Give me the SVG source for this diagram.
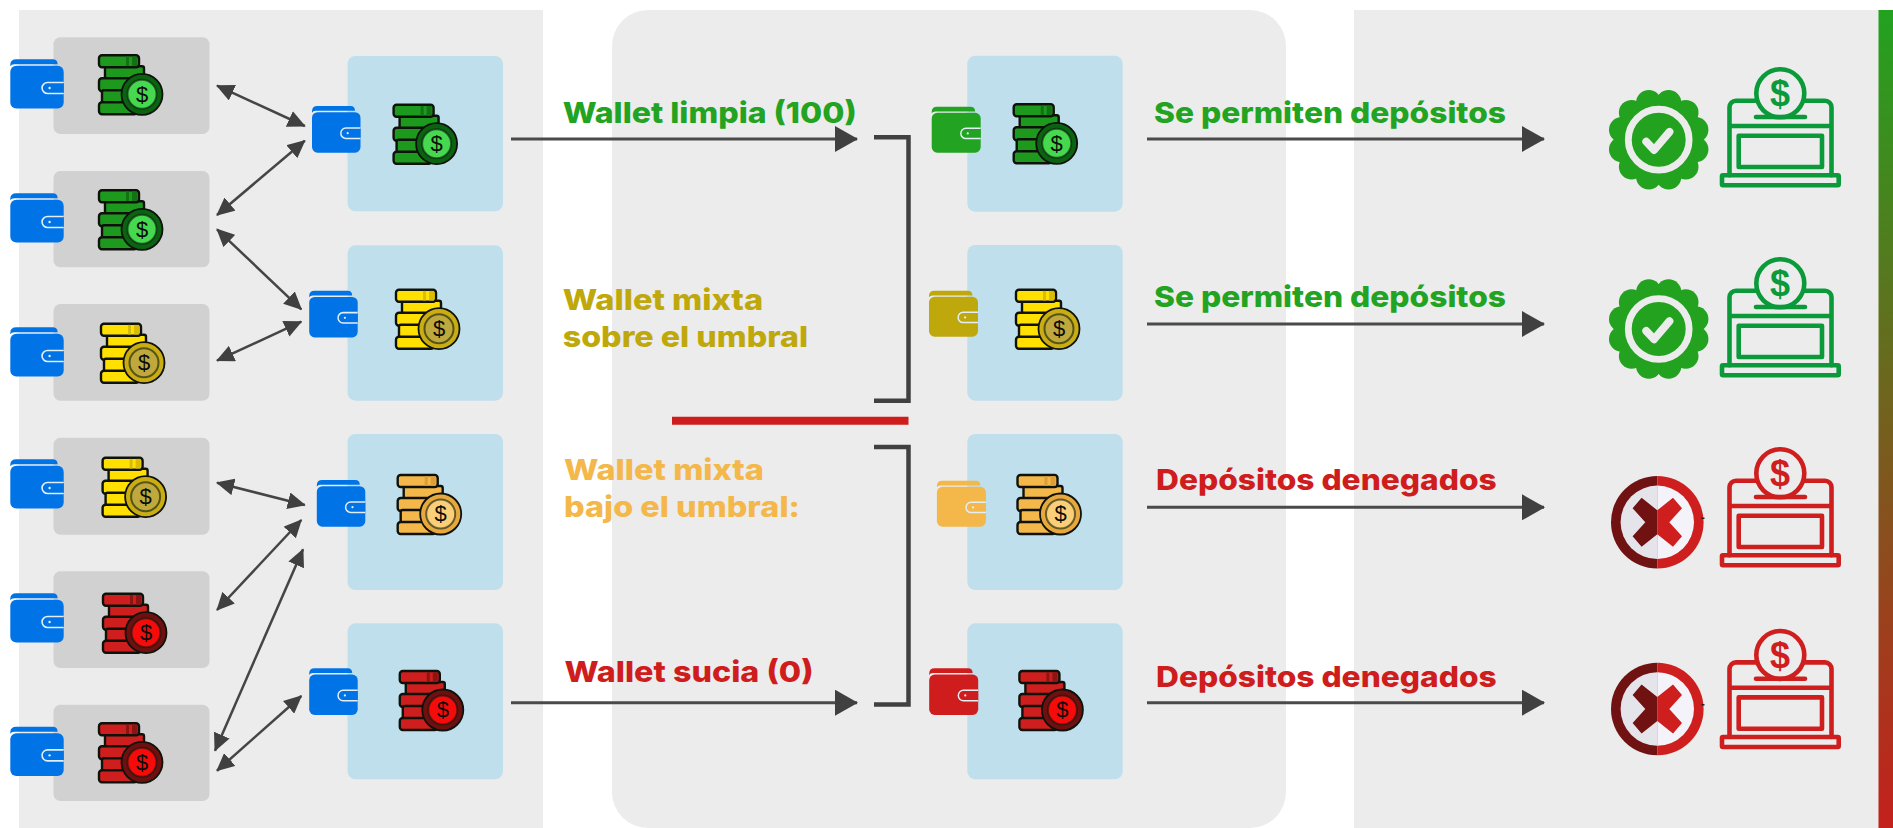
<svg xmlns="http://www.w3.org/2000/svg" width="1893" height="828" viewBox="0 0 1893 828">
<style>
.panel{fill:#ececec}
.gb{fill:#d1d1d1}
.bb{fill:#c0dfed}
.t{font-family:Inter,"Open Sans","Liberation Sans",sans-serif;font-weight:800;font-size:29px}
.green{fill:#22a322}.olive{fill:#bfa80c}.orange{fill:#f4b74a}.red{fill:#cf1c1c}
.d{font-family:"Liberation Sans",Arial,sans-serif;font-size:22px;text-anchor:middle;fill:#0c0c0c}
.bd{font-family:"Liberation Sans",Arial,sans-serif;font-weight:700;font-size:36px;text-anchor:middle}
.cg{--b:#1d9a1e;--s:#127312;--r:#0b6312;--l:#46d94f}
.cy{--b:#ffe000;--s:#d9bc05;--r:#c9ad12;--l:#bfa93c}
.co{--b:#f4b74a;--s:#dd9f35;--r:#e8a93c;--l:#fbcf78}
.cr{--b:#cf1e1e;--s:#8e1414;--r:#6f1010;--l:#f60b0b}
.sb{fill:var(--b);stroke:#0e120b;stroke-width:2.4}
.wb{color:#0073e6}.wg{color:#22a322}.wy{color:#bfa80c}.wo{color:#f4b74a}.wr{color:#cf1c1c}
.dbl{stroke:#454545;stroke-width:2.5;fill:none;marker-start:url(#ah);marker-end:url(#ah)}
.one{stroke:#4a4a4a;stroke-width:3;fill:none;marker-end:url(#bh)}
.brk{stroke:#404040;stroke-width:4.5;fill:none}
.box{fill:none;stroke-width:4.600;stroke-linejoin:round;stroke-linecap:round}
.sg{stroke:#0b9a3a;color:#0b9a3a}.sr{stroke:#cf1e1e;color:#cf1e1e}
</style>
<defs>
<linearGradient id="bar" x1="0" y1="0" x2="0" y2="1"><stop offset="0" stop-color="#22a21f"/><stop offset="1" stop-color="#c4201c"/></linearGradient>
<marker id="ah" markerUnits="userSpaceOnUse" viewBox="0 0 18 17" refX="17" refY="8.5" markerWidth="18" markerHeight="17" orient="auto-start-reverse"><path d="M0 0L18 8.5L0 17Z" fill="#404040"/></marker>
<marker id="bh" markerUnits="userSpaceOnUse" viewBox="0 0 23 26" refX="22" refY="13" markerWidth="23" markerHeight="26" orient="auto"><path d="M0 0L23 13L0 26Z" fill="#404040"/></marker>
<symbol id="wallet" viewBox="0 0 53 49" preserveAspectRatio="none" overflow="visible">
<path d="M0 5.5Q0 0 6 0H42Q47 0 47 5H4Q1 5 0 7Z" fill="currentColor"/>
<rect x="0" y="6.500" width="53" height="42.500" rx="6" fill="currentColor"/>
<path d="M53 23H37a5.5 5.5 0 0 0 0 11H53" fill="currentColor" stroke="#e4eef5" stroke-width="1.6"/>
<circle cx="39" cy="28.5" r="1.2" fill="#e4eef5"/>
</symbol>
<symbol id="coins" viewBox="0 0 65 61" overflow="visible">
<rect class="sb" x="7" y="12" width="39" height="14" rx="2"/>
<rect class="sb" x="1" y="24" width="38" height="13" rx="3"/>
<rect class="sb" x="4" y="36" width="35" height="13" rx="2"/>
<rect class="sb" x="1" y="48" width="38" height="12" rx="3"/>
<rect class="sb" x="1" y="1" width="40" height="12" rx="3"/>
<rect x="28" y="2.200" width="3" height="9.600" fill="var(--s)"/><rect x="34" y="2.200" width="5" height="9.600" fill="var(--s)"/>
<circle cx="44" cy="40" r="20.500" fill="var(--r)" stroke="#0e120b" stroke-width="1.8"/>
<circle cx="44" cy="40" r="14.500" fill="var(--l)" stroke="#0d1a0d" stroke-opacity=".6" stroke-width="2"/>
</symbol>
<symbol id="badge" viewBox="-52 -52 104 104">
<g fill="#22a21f"><circle r="43"/>
<circle cx="10.100" cy="37.700" r="13"/><circle cx="27.600" cy="27.600" r="13"/><circle cx="37.700" cy="10.100" r="13"/>
<circle cx="37.700" cy="-10.100" r="13"/><circle cx="27.600" cy="-27.600" r="13"/><circle cx="10.100" cy="-37.700" r="13"/>
<circle cx="-10.100" cy="-37.700" r="13"/><circle cx="-27.600" cy="-27.600" r="13"/><circle cx="-37.700" cy="-10.100" r="13"/>
<circle cx="-37.700" cy="10.100" r="13"/><circle cx="-27.600" cy="27.600" r="13"/><circle cx="-10.100" cy="37.700" r="13"/></g>
<circle r="31" fill="#22a21f" stroke="#ececec" stroke-width="7"/>
<path d="M-12.700 2L-4.700 10.500L11 -8" fill="none" stroke="#ececec" stroke-width="8" stroke-linecap="round" stroke-linejoin="round"/>
</symbol>
<symbol id="deny" viewBox="-47 -47 94 94">
<path d="M0-46.300A46.300 46.300 0 0 0 0 46.300Z" fill="#701212"/><path d="M0-46.300A46.300 46.300 0 0 1 0 46.300Z" fill="#cf1e1e"/>
<path d="M0-36.700A36.700 36.700 0 0 0 0 36.700Z" fill="#e6e4eb"/><path d="M0-36.700A36.700 36.700 0 0 1 0 36.700Z" fill="#f5f3fa"/>
<path d="M0-12L-15.700-24.500L-24.700-14L-12 0L-24.700 14L-15.700 24.500L0 12Z" fill="#701212"/>
<path d="M0-12L15.700-24.500L24.700-14L12 0L24.700 14L15.700 24.500L0 12Z" fill="#cf1e1e"/>
</symbol>
<symbol id="kiosk" viewBox="0 0 121 120" overflow="visible">
<path class="box" d="M36 33.400H16a6.500 6.500 0 0 0-6.500 6.500V108M85 33.400H105a6.500 6.500 0 0 1 6.500 6.500V108M9.500 58.700H111.500"/>
<circle class="box" cx="60.300" cy="26" r="24"/>
<path class="box" d="M36 49.700H85"/>
<rect class="box" x="18.700" y="68.400" width="83.300" height="31.300"/>
<rect class="box" x="2" y="108" width="116.700" height="10" rx="1"/>
</symbol>
</defs>

<g id="panels">
<rect class="panel" x="19" y="10" width="524" height="818"/>
<rect class="panel" x="612" y="10" width="674" height="818" rx="36"/>
<rect class="panel" x="1354" y="10" width="525" height="818"/>
<rect x="1878.500" y="10" width="14.500" height="818" fill="url(#bar)"/>
</g>

<g id="src-1"><rect class="gb" x="53.500" y="37.300" width="156" height="96.700" rx="7"/><use href="#coins" class="cg" x="98" y="54.300" width="65" height="61"/><text class="d" x="142" y="101.500">$</text><use href="#wallet" class="wb" x="10.300" y="59.300" width="53.400" height="49.300"/></g>
<g id="src-2"><rect class="gb" x="53.500" y="171" width="156" height="96.300" rx="7"/><use href="#coins" class="cg" x="98" y="189.300" width="65" height="61"/><text class="d" x="142" y="236.500">$</text><use href="#wallet" class="wb" x="10.300" y="193.300" width="53.400" height="49.300"/></g>
<g id="src-3"><rect class="gb" x="53.500" y="304" width="156" height="96.700" rx="7"/><use href="#coins" class="cy" x="100" y="322.700" width="65" height="61"/><text class="d" x="144" y="370">$</text><use href="#wallet" class="wb" x="10.300" y="327.300" width="53.400" height="49.300"/></g>
<g id="src-4"><rect class="gb" x="53.500" y="437.700" width="156" height="97" rx="7"/><use href="#coins" class="cy" x="101.600" y="456.700" width="65" height="61"/><text class="d" x="145.600" y="504">$</text><use href="#wallet" class="wb" x="10.300" y="459.300" width="53.400" height="49.300"/></g>
<g id="src-5"><rect class="gb" x="53.500" y="571.300" width="156" height="96.700" rx="7"/><use href="#coins" class="cr" x="102" y="592.700" width="65" height="61"/><text class="d" x="146" y="640">$</text><use href="#wallet" class="wb" x="10.300" y="593.300" width="53.400" height="49.300"/></g>
<g id="src-6"><rect class="gb" x="53.500" y="704.700" width="156" height="96.300" rx="7"/><use href="#coins" class="cr" x="98" y="722.300" width="65" height="61"/><text class="d" x="142" y="769.500">$</text><use href="#wallet" class="wb" x="10.300" y="726.700" width="53.400" height="49.300"/></g>

<g id="mix-1"><rect class="bb" x="347.500" y="56" width="155.500" height="155.300" rx="8"/><use href="#coins" class="cg" x="392.600" y="103.700" width="65" height="61"/><text class="d" x="436.600" y="151">$</text><use href="#wallet" class="wb" x="312" y="106" width="48.500" height="46.700"/></g>
<g id="mix-2"><rect class="bb" x="347.500" y="245.300" width="155.500" height="155.400" rx="8"/><use href="#coins" class="cy" x="395" y="288.700" width="65" height="61"/><text class="d" x="439" y="336">$</text><use href="#wallet" class="wb" x="309.200" y="290.700" width="48.500" height="46.700"/></g>
<g id="mix-3"><rect class="bb" x="347.500" y="434" width="155.500" height="156" rx="8"/><use href="#coins" class="co" x="396.700" y="474" width="65" height="61"/><text class="d" x="440.700" y="521.300">$</text><use href="#wallet" class="wb" x="316.800" y="480" width="48.500" height="46.700"/></g>
<g id="mix-4"><rect class="bb" x="347.500" y="623.300" width="155.500" height="156" rx="8"/><use href="#coins" class="cr" x="398.800" y="670" width="65" height="61"/><text class="d" x="442.800" y="717.300">$</text><use href="#wallet" class="wb" x="309.200" y="668.300" width="48.500" height="46.700"/></g>

<g id="res-1"><rect class="bb" x="967.300" y="55.700" width="155.400" height="156" rx="8"/><use href="#coins" class="cg" x="1012.700" y="103.300" width="65" height="61"/><text class="d" x="1056.700" y="150.600">$</text><use href="#wallet" class="wg" x="931.700" y="106.700" width="49" height="46"/></g>
<g id="res-2"><rect class="bb" x="967.300" y="245" width="155.400" height="155.700" rx="8"/><use href="#coins" class="cy" x="1015" y="288.700" width="65" height="61"/><text class="d" x="1059" y="336">$</text><use href="#wallet" class="wy" x="929" y="290.700" width="49" height="46"/></g>
<g id="res-3"><rect class="bb" x="967.300" y="434" width="155.400" height="156" rx="8"/><use href="#coins" class="co" x="1016.500" y="474" width="65" height="61"/><text class="d" x="1060.500" y="521.300">$</text><use href="#wallet" class="wo" x="936.900" y="480.700" width="49" height="46"/></g>
<g id="res-4"><rect class="bb" x="967.300" y="623.300" width="155.400" height="156" rx="8"/><use href="#coins" class="cr" x="1018.400" y="670" width="65" height="61"/><text class="d" x="1062.400" y="717.300">$</text><use href="#wallet" class="wr" x="929.200" y="668.300" width="49" height="46.700"/></g>

<g id="out-1"><use href="#badge" x="1607.700" y="88.700" width="102" height="102"/><use href="#kiosk" class="sg" x="1720" y="67.300" width="121" height="120"/><text class="bd" x="1780" y="106" fill="#0b9a3a">$</text></g>
<g id="out-2"><use href="#badge" x="1607.700" y="278" width="102" height="102"/><use href="#kiosk" class="sg" x="1720" y="257.300" width="121" height="120"/><text class="bd" x="1780" y="296" fill="#0b9a3a">$</text></g>
<g id="out-3"><use href="#deny" x="1610.300" y="475.300" width="94" height="94"/><rect x="1701.500" y="517.500" width="3" height="1.500" fill="#222"/><use href="#kiosk" class="sr" x="1720" y="447.300" width="121" height="120"/><text class="bd" x="1780" y="486" fill="#cf1e1e">$</text></g>
<g id="out-4"><use href="#deny" x="1610.300" y="662" width="94" height="94"/><rect x="1701.500" y="704" width="3" height="1.500" fill="#222"/><use href="#kiosk" class="sr" x="1720" y="629" width="121" height="120"/><text class="bd" x="1780" y="667.700" fill="#cf1e1e">$</text></g>

<g id="connectors">
<line class="dbl" x1="217" y1="85.700" x2="304.800" y2="126"/>
<line class="dbl" x1="304.800" y1="140.700" x2="217" y2="215"/>
<line class="dbl" x1="217" y1="229.300" x2="301.300" y2="309.300"/>
<line class="dbl" x1="301.300" y1="321.700" x2="217" y2="360.700"/>
<line class="dbl" x1="217" y1="482.700" x2="304.800" y2="505"/>
<line class="dbl" x1="301.300" y1="520" x2="217" y2="610"/>
<line class="dbl" x1="303" y1="549.300" x2="215" y2="750.700"/>
<line class="dbl" x1="301.300" y1="696" x2="217" y2="770.700"/>
<line class="one" x1="511" y1="139" x2="857" y2="139"/>
<line class="one" x1="511" y1="702.700" x2="857" y2="702.700"/>
<line class="one" x1="1147" y1="139" x2="1544" y2="139"/>
<line class="one" x1="1147" y1="324" x2="1544" y2="324"/>
<line class="one" x1="1147" y1="507.300" x2="1544" y2="507.300"/>
<line class="one" x1="1147" y1="702.700" x2="1544" y2="702.700"/>
<path class="brk" d="M874 137.300H908.500V400.800H874"/>
<path class="brk" d="M874 447H908.500V704.500H874"/>
<line x1="672" y1="420.800" x2="908.500" y2="420.800" stroke="#cf1c1c" stroke-width="8"/>
</g>

<g id="labels">
<text class="t green" x="562.700" y="123.300" textLength="294" lengthAdjust="spacingAndGlyphs">Wallet limpia (100)</text>
<text class="t olive" x="562.700" y="310" textLength="200.500" lengthAdjust="spacingAndGlyphs">Wallet mixta</text>
<text class="t olive" x="562.700" y="346.700" textLength="245.500" lengthAdjust="spacingAndGlyphs">sobre el umbral</text>
<text class="t orange" x="564" y="480" textLength="200" lengthAdjust="spacingAndGlyphs">Wallet mixta</text>
<text class="t orange" x="564" y="517" textLength="236" lengthAdjust="spacingAndGlyphs">bajo el umbral:</text>
<text class="t red" x="564.500" y="681.700" textLength="249" lengthAdjust="spacingAndGlyphs">Wallet sucia (0)</text>
<text class="t green" x="1154" y="122.700" textLength="352" lengthAdjust="spacingAndGlyphs">Se permiten depósitos</text>
<text class="t green" x="1154" y="306.700" textLength="352" lengthAdjust="spacingAndGlyphs">Se permiten depósitos</text>
<text class="t red" x="1156" y="490" textLength="340.700" lengthAdjust="spacingAndGlyphs">Depósitos denegados</text>
<text class="t red" x="1156" y="686.800" textLength="340.700" lengthAdjust="spacingAndGlyphs">Depósitos denegados</text>
</g>
</svg>
